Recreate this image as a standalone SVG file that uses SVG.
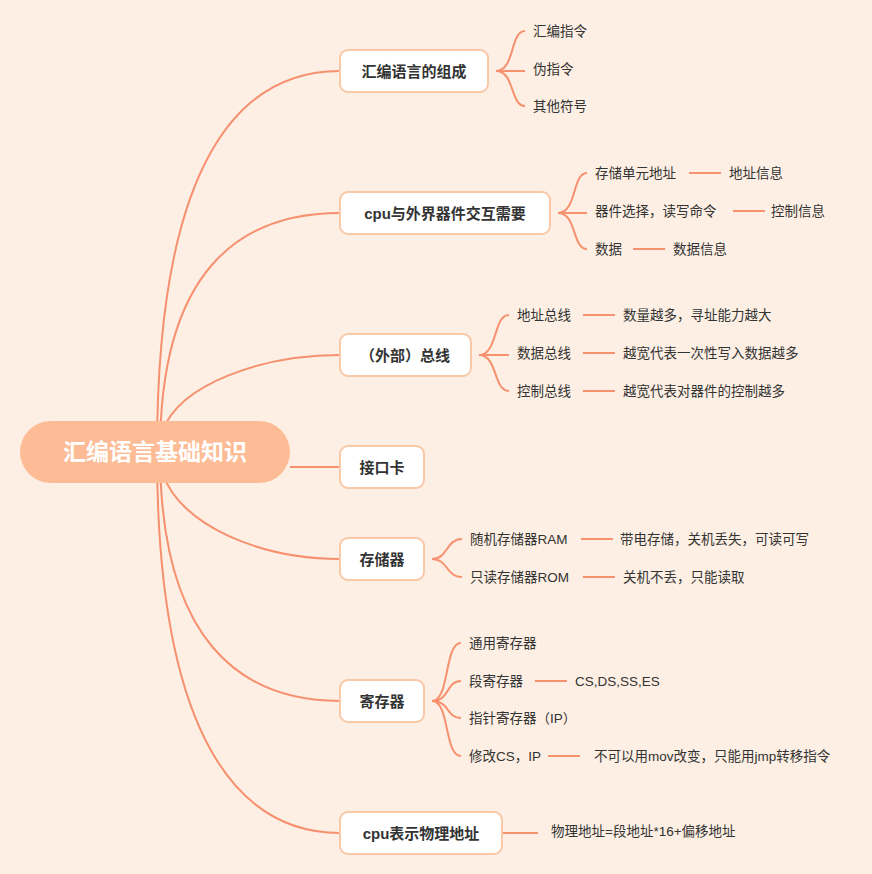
<svg xmlns="http://www.w3.org/2000/svg" width="872" height="874" viewBox="0 0 872 874">
<style>
.c{fill:none;stroke:#f7906f;stroke-width:2}
.b{fill:#fff;stroke:#f9c8a6;stroke-width:2}
.n{font-family:"Liberation Sans","Noto Sans CJK SC",sans-serif;font-size:15px;font-weight:bold;fill:#333}
.t{font-family:"Liberation Sans","Noto Sans CJK SC",sans-serif;font-size:13.5px;fill:#333;dominant-baseline:central}
</style>
<rect width="872" height="874" fill="#fdefe3"/>
<g id="connectors" class="c">
<path d="M157,452 C157,160 240,71 340,71"/>
<path d="M160,452 C160,270 240,213 340,213"/>
<path d="M163,430 C180,385 260,355 340,355"/>
<path d="M290,467 H340"/>
<path d="M163,474 C180,525 260,559 340,559"/>
<path d="M160,452 C160,640 240,701 340,701"/>
<path d="M157,452 C157,740 240,833 340,833"/>
<path d="M496,71 C515,71 510,31 525,31 M496,71 H525 M496,71 C515,71 510,106 525,106"/>
<path d="M558,213 C577,213 572,173 587,173 M558,213 H587 M558,213 C577,213 572,249 587,249"/>
<path d="M689,173 H721 M733,211 H765 M633,249 H665"/>
<path d="M479,355 C498,355 493,315 509,315 M479,355 H509 M479,355 C498,355 493,391 509,391"/>
<path d="M583,315 H615 M583,353 H615 M583,391 H615"/>
<path d="M432,559 C448,559 446,539 462,539 M432,559 C448,559 446,577 462,577"/>
<path d="M581,539 H613 M583,577 H615"/>
<path d="M432,701 C450,701 444,643 461,643 M432,701 C450,701 446,681 461,681 M432,701 C450,701 446,718 461,718 M432,701 C450,701 444,756 461,756"/>
<path d="M535,681 H567 M548,756 H580 M502,833 H538"/>
</g>
<g id="root"><rect x="20" y="421" width="270" height="62" rx="31" fill="#fdbc96"/>
<text x="155" y="452" font-family="Liberation Sans,Noto Sans CJK SC,sans-serif" font-size="23" font-weight="bold" fill="#fff" text-anchor="middle" dominant-baseline="central">汇编语言基础知识</text></g>
<g id="n1"><rect class="b" x="340" y="50" width="148" height="42" rx="8"/><text class="n" x="414" y="71" text-anchor="middle" dominant-baseline="central">汇编语言的组成</text>
<text class="t" x="533" y="31">汇编指令</text><text class="t" x="533" y="69">伪指令</text><text class="t" x="533" y="106">其他符号</text></g>
<g id="n2"><rect class="b" x="340" y="192" width="210" height="42" rx="8"/><text class="n" x="445" y="213" text-anchor="middle" dominant-baseline="central">cpu与外界器件交互需要</text>
<text class="t" x="595" y="173">存储单元地址</text><text class="t" x="729" y="173">地址信息</text>
<text class="t" x="595" y="211">器件选择，读写命令</text><text class="t" x="771" y="211">控制信息</text>
<text class="t" x="595" y="249">数据</text><text class="t" x="673" y="249">数据信息</text></g>
<g id="n3"><rect class="b" x="340" y="334" width="131" height="42" rx="8"/><text class="n" x="405" y="355" text-anchor="middle" dominant-baseline="central">（外部）总线</text>
<text class="t" x="517" y="315">地址总线</text><text class="t" x="623" y="315">数量越多，寻址能力越大</text>
<text class="t" x="517" y="353">数据总线</text><text class="t" x="623" y="353">越宽代表一次性写入数据越多</text>
<text class="t" x="517" y="391">控制总线</text><text class="t" x="623" y="391">越宽代表对器件的控制越多</text></g>
<g id="n4"><rect class="b" x="340" y="446" width="84" height="42" rx="8"/><text class="n" x="382" y="467" text-anchor="middle" dominant-baseline="central">接口卡</text></g>
<g id="n5"><rect class="b" x="340" y="538" width="84" height="42" rx="8"/><text class="n" x="382" y="559" text-anchor="middle" dominant-baseline="central">存储器</text>
<text class="t" x="470" y="539">随机存储器RAM</text><text class="t" x="620" y="539">带电存储，关机丢失，可读可写</text>
<text class="t" x="470" y="577">只读存储器ROM</text><text class="t" x="623" y="577">关机不丢，只能读取</text></g>
<g id="n6"><rect class="b" x="340" y="680" width="84" height="42" rx="8"/><text class="n" x="382" y="701" text-anchor="middle" dominant-baseline="central">寄存器</text>
<text class="t" x="469" y="643">通用寄存器</text>
<text class="t" x="469" y="681">段寄存器</text><text class="t" x="575" y="681">CS,DS,SS,ES</text>
<text class="t" x="469" y="718">指针寄存器（IP）</text>
<text class="t" x="469" y="756">修改CS，IP</text><text class="t" x="594" y="756">不可以用mov改变，只能用jmp转移指令</text></g>
<g id="n7"><rect class="b" x="340" y="812" width="162" height="42" rx="8"/><text class="n" x="421" y="833" text-anchor="middle" dominant-baseline="central">cpu表示物理地址</text>
<text class="t" x="551" y="831">物理地址=段地址*16+偏移地址</text></g>
</svg>
